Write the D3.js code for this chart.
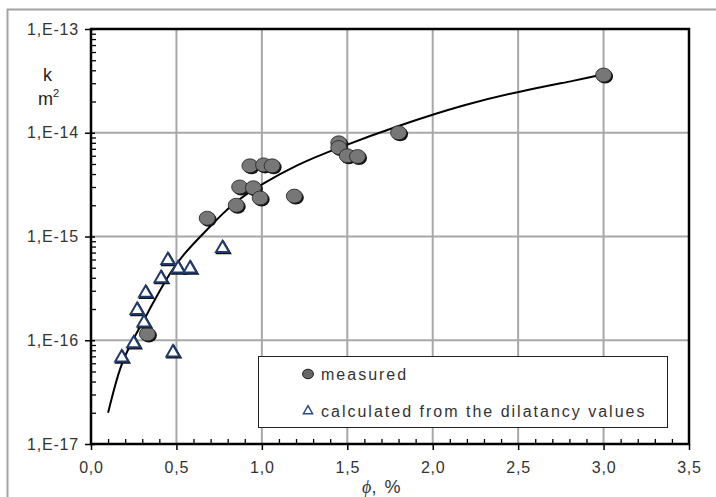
<!DOCTYPE html>
<html>
<head>
<meta charset="utf-8">
<script src="https://cdn.jsdelivr.net/npm/d3@7"></script>
<style>
  html, body { margin: 0; padding: 0; background: #fff; }
  svg { display: block; }
  text { font-family: "Liberation Sans", Arial, sans-serif; }
</style>
</head>
<body>
<svg id="chart" width="716" height="497"></svg>
<script>
// ---- Data ----
const measuredPhi = [0.33, 0.68, 0.85, 0.87, 0.93, 0.95, 0.99, 1.01, 1.06, 1.19, 1.45, 1.45, 1.50, 1.56, 1.80, 3.00];
const measuredK   = [1.15e-16, 1.5e-15, 2.0e-15, 3.0e-15, 4.8e-15, 2.95e-15, 2.35e-15, 4.9e-15, 4.8e-15, 2.45e-15, 8.0e-15, 7.2e-15, 6.0e-15, 5.9e-15, 1.0e-14, 3.6e-14];

const calcPhi = [0.18, 0.25, 0.27, 0.31, 0.32, 0.41, 0.45, 0.48, 0.51, 0.58, 0.77];
const calcK   = [6.8e-17, 9.3e-17, 1.95e-16, 1.48e-16, 2.85e-16, 3.95e-16, 5.9e-16, 7.6e-17, 4.9e-16, 4.9e-16, 7.7e-16];

const curvePhi = [0.10, 0.17, 0.25, 0.33, 0.43, 0.54, 0.67, 0.76, 0.85, 1.00, 1.20, 1.44, 1.81, 2.20, 2.50, 2.86, 2.98];
const curveK   = [2.0e-17, 5.8e-17, 1.05e-16, 1.8e-16, 3.7e-16, 6.8e-16, 1.12e-15, 1.6e-15, 2.2e-15, 3.2e-15, 4.9e-15, 7.1e-15, 1.19e-14, 1.9e-14, 2.49e-14, 3.25e-14, 3.6e-14];

const xTickValues = [0, 0.5, 1.0, 1.5, 2.0, 2.5, 3.0, 3.5];
const xTickLabels = ["0,0", "0,5", "1,0", "1,5", "2,0", "2,5", "3,0", "3,5"];
const yTickValues = [1e-17, 1e-16, 1e-15, 1e-14, 1e-13];
const yTickLabels = ["1,E-17", "1,E-16", "1,E-15", "1,E-14", "1,E-13"];
const legendLabels = ["measured", "calculated from the dilatancy values"];

// ---- Layout ----
const svg = d3.select("#chart");
const L = 91, R = 689, T = 29, B = 444;
const x = d3.scaleLinear().domain([0, 3.5]).range([L, R]);
const y = d3.scaleLog().domain([1e-17, 1e-13]).range([B, T]);

// outer frame (grey)
svg.append("path").attr("d", `M7.5,497 L7.5,9.5 L716,9.5`)
  .attr("fill", "none").attr("stroke", "#a4a4a4").attr("stroke-width", 2);

// gridlines
const grid = svg.append("g").attr("stroke", "#a8a8a8").attr("stroke-width", 2);
xTickValues.slice(1, -1).forEach(v => {
  grid.append("line").attr("x1", x(v)).attr("x2", x(v)).attr("y1", T).attr("y2", B);
});
yTickValues.slice(1, -1).forEach(v => {
  grid.append("line").attr("x1", L).attr("x2", R).attr("y1", y(v)).attr("y2", y(v));
});

// minor ticks
const yMinor = [];
for (let e = -17; e < -13; e++) for (let m = 2; m <= 9; m++) yMinor.push(m * Math.pow(10, e));
const xMinor = d3.range(1, 35).map(i => i / 10).filter(v => Math.abs(v * 2 - Math.round(v * 2)) > 1e-9);

svg.append("g").attr("transform", `translate(${L},0)`)
  .call(d3.axisRight(y).tickValues(yMinor).tickSize(5).tickFormat(""))
  .call(g => g.select(".domain").remove())
  .selectAll("line").attr("stroke", "#000").attr("stroke-width", 1.3);
svg.append("g").attr("transform", `translate(0,${B})`)
  .call(d3.axisTop(x).tickValues(xMinor).tickSize(5).tickFormat(""))
  .call(g => g.select(".domain").remove())
  .selectAll("line").attr("stroke", "#000").attr("stroke-width", 1.3);

// major axes
const yAxis = svg.append("g").attr("transform", `translate(${L},0)`)
  .call(d3.axisLeft(y).tickValues(yTickValues).tickSize(6).tickPadding(6)
    .tickFormat((d, i) => yTickLabels[i]));
yAxis.select(".domain").remove();
yAxis.selectAll("line").attr("stroke", "#000").attr("stroke-width", 1.5).attr("x2", -6).attr("x1", 4);
yAxis.selectAll("text").attr("font-size", 16).attr("fill", "#333").attr("letter-spacing", 0.8)
  .attr("font-family", "'Liberation Sans', Arial, sans-serif");

const xAxis = svg.append("g").attr("transform", `translate(0,${B})`)
  .call(d3.axisBottom(x).tickValues(xTickValues).tickSize(6).tickPadding(12)
    .tickFormat((d, i) => xTickLabels[i]));
xAxis.select(".domain").remove();
xAxis.selectAll("line").attr("stroke", "#000").attr("stroke-width", 1.5);
xAxis.selectAll("text").attr("font-size", 16).attr("fill", "#333").attr("letter-spacing", 0.8)
  .attr("font-family", "'Liberation Sans', Arial, sans-serif");

// plot border
svg.append("rect").attr("x", L).attr("y", T).attr("width", R - L).attr("height", B - T)
  .attr("fill", "none").attr("stroke", "#000").attr("stroke-width", 2.5);

// fitted curve
const line = d3.line().x((d, i) => x(curvePhi[i])).y((d, i) => y(curveK[i])).curve(d3.curveBasis);
svg.append("path").datum(curvePhi).attr("d", line)
  .attr("fill", "none").attr("stroke", "#000").attr("stroke-width", 2);

// measured points (circles with shadow)
const meas = svg.append("g");
meas.selectAll("ellipse.shadow").data(measuredPhi).join("ellipse")
  .attr("cx", (d) => x(d) + 1.5).attr("cy", (d, i) => y(measuredK[i]) + 1.5)
  .attr("rx", 8).attr("ry", 7).attr("fill", "#111");
meas.selectAll("ellipse.pt").data(measuredPhi).join("ellipse")
  .attr("cx", (d) => x(d)).attr("cy", (d, i) => y(measuredK[i]))
  .attr("rx", 8).attr("ry", 7).attr("fill", "#777").attr("stroke", "#222").attr("stroke-width", 0.8);

// calculated points (triangles)
const tri = d3.symbol().type(d3.symbolTriangle).size(75);
const calc = svg.append("g");
calc.selectAll("path.shadow").data(calcPhi).join("path")
  .attr("transform", (d, i) => `translate(${x(d) + 1},${y(calcK[i]) + 1.2})`)
  .attr("d", tri).attr("fill", "none").attr("stroke", "#111").attr("stroke-width", 2);
calc.selectAll("path.pt").data(calcPhi).join("path")
  .attr("transform", (d, i) => `translate(${x(d)},${y(calcK[i])})`)
  .attr("d", tri).attr("fill", "#fff").attr("stroke", "#1f3b6e").attr("stroke-width", 2);

// legend
const lg = svg.append("g");
lg.append("rect").attr("x", 258.5).attr("y", 356.5).attr("width", 409).attr("height", 71)
  .attr("fill", "#fff").attr("stroke", "#222").attr("stroke-width", 1);
lg.append("ellipse").attr("cx", 308).attr("cy", 374).attr("rx", 5.5).attr("ry", 4.8)
  .attr("fill", "#666").attr("stroke", "#222").attr("stroke-width", 1);
lg.append("path").attr("transform", "translate(308,411)")
  .attr("d", d3.symbol().type(d3.symbolTriangle).size(36))
  .attr("fill", "#fff").attr("stroke", "#2a4a8a").attr("stroke-width", 1.5);
lg.selectAll("text").data(legendLabels).join("text")
  .attr("x", 321).attr("y", (d, i) => i === 0 ? 380 : 417)
  .attr("font-size", 16).attr("letter-spacing", 2.0).attr("fill", "#333")
  .text(d => d);

// axis titles
const xt = svg.append("text").attr("x", 382).attr("y", 493).attr("text-anchor", "middle")
  .attr("font-size", 18).attr("fill", "#333");
xt.append("tspan").attr("font-family", "'Liberation Serif', 'Times New Roman', serif")
  .attr("font-style", "italic").text("ϕ");
xt.append("tspan").text(", %").attr("letter-spacing", 1.5);

const yt = svg.append("g").attr("font-family", "'Liberation Serif', 'Times New Roman', serif").attr("fill", "#222");
yt.append("text").attr("x", 43).attr("y", 81).attr("font-size", 18).text("k");
const m2 = yt.append("text").attr("x", 38).attr("y", 105).attr("font-size", 18);
m2.append("tspan").text("m");
m2.append("tspan").attr("dy", -8).attr("font-size", 11).text("2");
</script>
</body>
</html>
